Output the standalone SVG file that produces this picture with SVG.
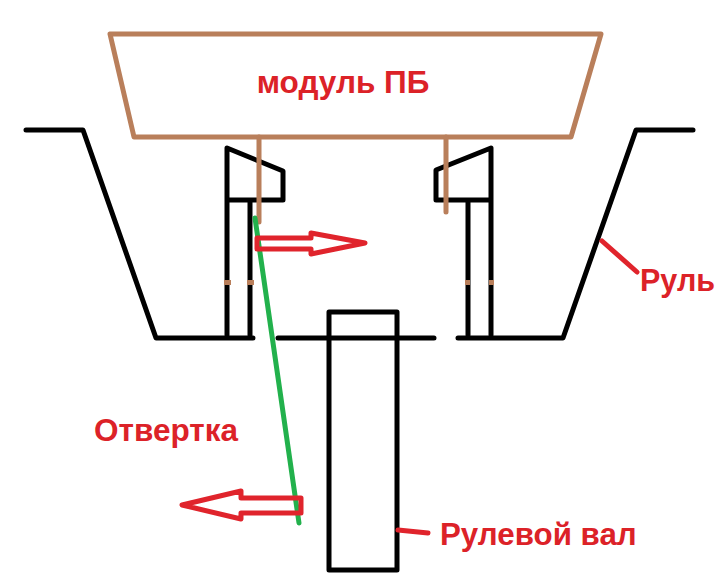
<svg xmlns="http://www.w3.org/2000/svg" width="726" height="582" viewBox="0 0 726 582">
<style>
.k{fill:none;stroke:#000;stroke-width:5;stroke-linecap:round;stroke-linejoin:round}
.b{fill:none;stroke:#b97f5b;stroke-width:5;stroke-linecap:round;stroke-linejoin:round}
.r{fill:none;stroke:#e0242c;stroke-width:5;stroke-linecap:round;stroke-linejoin:round}
.g{fill:none;stroke:#22b14c;stroke-width:5;stroke-linecap:round}
.t{font-family:"Liberation Sans",Arial,sans-serif;font-weight:bold;fill:#dc2228}
</style>
<rect width="726" height="582" fill="#fff"/>
<g id="wheel">
<path class="k" d="M26 130H83L156 338H253M278 338H434M458 338H563L636 130H693"/>
</g>
<g id="left-bracket">
<path class="k" d="M227 335V148L283 171V200H227M250 200V335"/>
</g>
<g id="right-bracket">
<path class="k" d="M491 335V148L436 170V200H491M468 200V335"/>
</g>
<g id="shaft">
<rect class="k" x="329" y="312" width="68" height="258"/>
</g>
<g id="module">
<path class="b" d="M110 34H601L571 137H134Z"/>
<path class="b" d="M259 137V222M446 137V212"/>
<path d="M224 280h7v5h-7zM247 280h7v5h-7zM465 280h5v5h-5zM489 280h5v5h-5z" fill="#b97f5b"/>
<text class="t" x="343" y="93" font-size="31.5" text-anchor="middle">модуль ПБ</text>
</g>
<g id="connectors">
<path class="g" d="M255 218L299 523"/>
<path class="r" d="M257 238H311V233L365 243L311 254V249H257Z"/>
<path class="r" d="M301 498H241V491L182 505L241 519V513H301Z"/>
<path class="r" d="M602 241L637 272"/>
<path class="r" d="M398 530L428 533"/>
</g>
<g id="labels">
<text class="t" x="94" y="441" font-size="31.5">Отвертка</text>
<text class="t" x="640" y="291" font-size="30.5">Руль</text>
<text class="t" x="440" y="545" font-size="31.3">Рулевой вал</text>
</g>
</svg>
